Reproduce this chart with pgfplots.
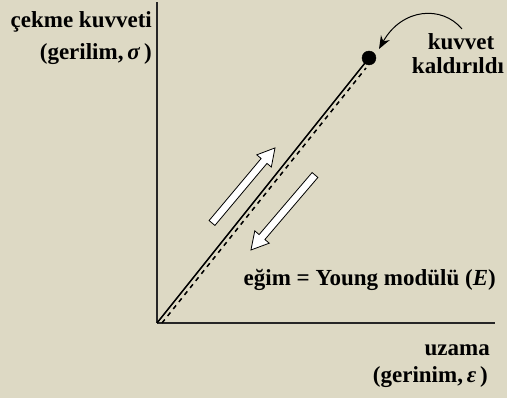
\documentclass[border=0pt]{standalone}
\usepackage{pgfplots}
\pgfplotsset{compat=1.18}
\usepackage{fontspec}
\setmainfont{Liberation Serif}
\usetikzlibrary{arrows.meta}
\definecolor{bg}{RGB}{221,217,196}
\newcommand{\blockarrow}[4]{% x y angle length
  \begin{scope}[shift={(#1,#2)},rotate=#3]
    \draw[fill=white,line width=0.8pt,line join=miter] (0,-3.8) -- (#4-17,-3.8) -- (#4-17,-9.5) -- (#4,0) -- (#4-17,9.5) -- (#4-17,3.8) -- (0,3.8) -- cycle;
  \end{scope}}
\begin{document}
\fontsize{23}{27}\selectfont\bfseries
\begin{tikzpicture}[x=1pt,y=1pt]
\useasboundingbox[fill=bg] (-157,-75) rectangle (350,323);
\begin{axis}[
  at={(0,0)}, anchor=south west,
  scale only axis, width=338pt, height=321pt,
  xmin=0, xmax=338, ymin=0, ymax=321,
  axis lines=left, axis line style={-, line width=1.6pt, black!85},
  xtick=\empty, ytick=\empty,
  clip=false,
]
\addplot[black, line width=1.5pt] coordinates {(0,0) (212,265)};
\addplot[black, line width=1.5pt, dash pattern=on 4.5pt off 4.5pt] coordinates {(5,0) (209,255)};
\addplot[only marks, mark=*, mark size=7pt, black] coordinates {(212,265)};
\end{axis}
\blockarrow{55}{100}{50}{98}
\blockarrow{158}{148}{229.5}{98.6}
\draw[line width=1pt, -{Stealth[length=13pt,width=10pt]}] (305,294) .. controls (285,318) and (245,315) .. (222,274);
\node[anchor=base east, inner sep=0pt] at (-5,295) {çekme kuvveti};
\node[anchor=base east, inner sep=0pt] at (-5,263) {(gerilim,\,\textit{σ}\,)};
\node[anchor=base, inner sep=0pt] at (304,273) {kuvvet};
\node[anchor=base, inner sep=0pt] at (301,249) {kaldırıldı};
\node[anchor=base east, inner sep=0pt] at (339,37) {eğim = Young modülü (\textit{E})};
\node[anchor=base east, inner sep=0pt] at (333,-33) {uzama};
\node[anchor=base east, inner sep=0pt] at (331,-60) {(gerinim,\,\textit{ε}\,)};
\end{tikzpicture}
\end{document}
